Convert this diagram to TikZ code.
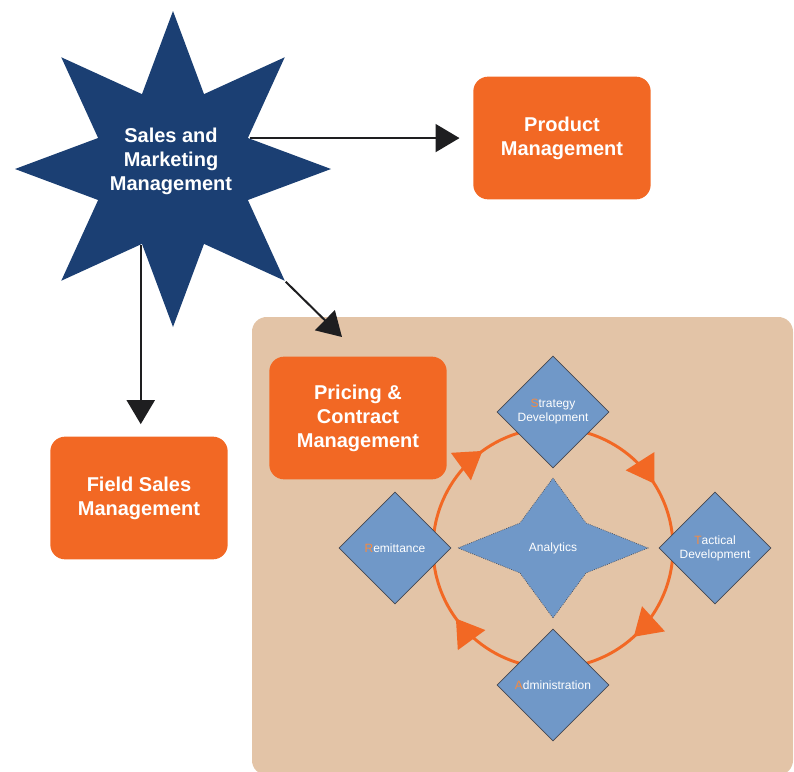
\documentclass[tikz,border=0pt]{standalone}
\usepackage{fontspec}
\setmainfont{Liberation Sans}
\usetikzlibrary{shapes.geometric,arrows.meta,decorations.markings}

\definecolor{navyc}{RGB}{27,63,115}
\definecolor{orangec}{RGB}{242,104,36}
\definecolor{tanc}{RGB}{227,196,167}
\definecolor{bluec}{RGB}{112,152,200}
\definecolor{edgec}{RGB}{70,72,80}
\definecolor{initc}{RGB}{246,138,64}
\definecolor{arrowc}{RGB}{30,30,32}

\tikzset{every picture/.style={line width=0.75pt}}
\tikzset{
  obox/.style={rectangle, rounded corners=11pt, fill=orangec, text=white,
    font=\bfseries\fontsize{15}{18}\selectfont, align=center,
    minimum width=133pt, minimum height=92pt, inner sep=0pt},
  dbox/.style={diamond, draw=edgec, line width=0.5pt, fill=bluec, text=white,
    font=\fontsize{9}{10.5}\selectfont, align=center,
    minimum size=84pt, inner sep=0pt},
  bigtxt/.style={text=white, font=\bfseries\fontsize{15}{18}\selectfont, align=center},
  smalltxt/.style={text=white, font=\fontsize{9}{10.5}\selectfont, align=center},
  conn/.style={draw=arrowc, line width=1.5pt, -{Triangle[length=18pt,width=21pt]}},
  ring/.style={color=orangec, line width=2.2pt, postaction={decorate},
    decoration={markings, mark=at position #1 with {\arrow{Triangle[length=20pt,width=25pt]}}}},
}
\newcommand{\ini}[1]{{\color{initc}#1}}

\begin{document}
\begin{tikzpicture}[x=0.75pt,y=0.75pt,yscale=-1,xscale=1]
\useasboundingbox (0,0) rectangle (794,772);

%Shape: Rounded Rect (panel)
\fill[tanc, rounded corners=11pt] (252,317) rectangle (793,775);

%Shape: Star
\node[star, star points=8, star point ratio=1.95, minimum size=237pt, inner sep=0pt, fill=navyc] (sm) at (173,169) {};
% Text Node
\node[bigtxt] (smlbl) at (171,161) {Sales and\\Marketing\\Management};

% Boxes
\node[obox] (pm) at (562,138) {Product\\Management};
\node[obox] (fs) at (139,498) {Field Sales\\Management};
\node[obox] (pc) at (358,418) {Pricing \&\\Contract\\Management};

% Connectors from the star
\coordinate (pcTip) at (342,337);
\draw[conn, shorten >=10pt] (sm.22.5) -- (sm.22.5 -| pm.west);
\draw[conn, shorten >=9pt] (sm.247.5) -- (sm.247.5 |- fs.north);
\draw[conn] (sm.-45) -- (pcTip);

% Cycle round Analytics
\coordinate (anc) at (553,548);
\draw[ring=0.6] ([shift={(180:120)}]anc) arc[start angle=180, end angle=270, radius=120];
\draw[ring=0.64] ([shift={(270:120)}]anc) arc[start angle=270, end angle=360, radius=120];
\draw[ring=0.53] ([shift={(0:120)}]anc) arc[start angle=0, end angle=90, radius=120];
\draw[ring=0.6] ([shift={(90:120)}]anc) arc[start angle=90, end angle=180, radius=120];

% Diamonds
\node[dbox] (sd) at (553,412) {\ini{S}trategy\\Development};
\node[dbox] (td) at (715,548) {\ini{T}actical\\Development};
\node[dbox] (ad) at (553,685) {\ini{A}dministration};
\node[dbox] (rm) at (395,548) {\ini{R}emittance};

%Shape: Four point star
\draw[fill=bluec, draw=edgec, line width=0.5pt, densely dotted] (anc) ++(0,-70) -- ++(33,45) -- ++(62,25) -- ++(-62,25) -- ++(-33,45) -- ++(-33,-45) -- ++(-62,-25) -- ++(62,-25) -- cycle;
% Text Node
\node[smalltxt] (ana) at (anc) {Analytics};

\end{tikzpicture}
\end{document}
